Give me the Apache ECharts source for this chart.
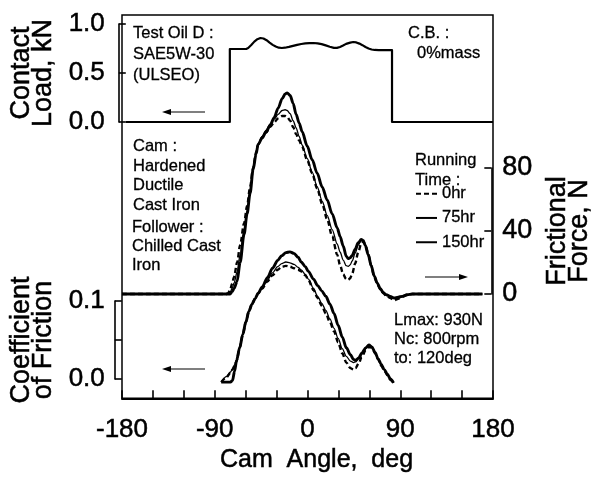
<!DOCTYPE html>
<html>
<head>
<meta charset="utf-8">
<script src="https://cdn.jsdelivr.net/npm/echarts@6/dist/echarts.min.js"></script>
<style>html,body{margin:0;padding:0;background:#fff;}#c{width:601px;height:478px;}</style>
</head>
<body>
<div id="c"></div>
<script>
// ---------- DATA ----------
const xTickLabels = [-180, -90, 0, 90, 180];
const loadTickLabels = [0.0, 0.5, 1.0];
const ffTickLabels = [0, 40, 80];
const cofTickLabels = [0.0, 0.1];
const seriesNames = ['0hr', '75hr', '150hr'];

// Contact load (kN) vs cam angle (deg)
const loadAngles = [-180, -78, -78, -62, -60, -57, -54, -51, -48, -45, -42, -39, -36, -33, -30, -27, -24, -20, -16, -12, -8, -4, 0, 4, 8, 12, 16, 20, 24, 27, 30, 33, 36, 40, 43, 46, 49, 52, 55, 58, 61, 64, 68, 81, 81, 180];
const loadKN     = [0, 0, 0.745, 0.745, 0.755, 0.785, 0.82, 0.845, 0.857, 0.852, 0.835, 0.81, 0.787, 0.77, 0.758, 0.755, 0.758, 0.766, 0.777, 0.787, 0.796, 0.802, 0.805, 0.806, 0.803, 0.795, 0.782, 0.768, 0.757, 0.756, 0.765, 0.78, 0.797, 0.81, 0.816, 0.812, 0.8, 0.784, 0.765, 0.75, 0.74, 0.735, 0.733, 0.733, 0, 0];

// Frictional force (N)
const ffAngles = [-180, -76, -74, -72, -70, -68, -65, -62, -58, -55, -52, -49, -46, -44, -40, -36, -32, -28, -24, -20, -17, -15, -12, -9, -6, -3, 0, 5, 10, 15, 20, 25, 30, 35, 38, 41, 44, 46, 48, 50, 53, 56, 59, 61, 63, 66, 69, 72, 75, 78, 81, 84, 88, 92, 96, 100, 105, 110, 180];
const ff0hr   = [0, 0, 0.5, 2.5, 6.5, 11, 20, 31, 45, 56, 68, 80, 90, 95, 99.5, 102.5, 106, 109, 111.5, 113, 113, 112.5, 110, 106, 101.5, 97.5, 93.5, 85.1, 76.7, 67, 57.2, 47.4, 36.6, 25, 18, 12.5, 9.5, 9, 10, 13, 19.5, 26.5, 32, 33.3, 31.5, 25.5, 18, 11, 6.5, 3, 0.5, -1, -2.5, -4, -3, -1.5, -0.5, 0, 0];
const ff75hr  = [0, 0, 0, 1, 3.5, 7, 14, 25, 41, 53, 66, 79, 90, 95, 100, 104, 108, 111, 114, 116.5, 117, 116.5, 114.5, 110, 105.5, 100, 94.6, 86.1, 77.4, 68.1, 59, 49.9, 40.9, 31.8, 26.5, 21.5, 18, 17.5, 18.5, 21, 26, 31, 34, 33.5, 31, 25, 18, 11.5, 7, 3.5, 1, -0.5, -1.5, -2.5, -2, -1.5, -0.5, 0, 0];
const ff150hr = [0, 0, 0, 0, 1.5, 3.5, 8, 20, 38, 51, 64, 79, 89, 95, 99, 103, 107, 112, 118, 124, 127, 127.7, 126, 121, 114, 108.5, 103, 94, 85.2, 76.7, 68, 59.7, 50.8, 42, 36.4, 30.5, 24, 22.5, 23, 24.5, 28.5, 32.5, 34.6, 34, 31, 25, 18, 11.5, 7, 3.5, 1, -0.5, -1.5, -2.5, -2, -1.5, -0.5, 0, 0];

// Coefficient of friction
const cofAngles = [-85, -80, -76, -74, -72, -70, -67, -64, -61, -58, -55, -52, -49, -45, -40, -35, -30, -26, -22, -18, -14, -10, -7, -3, 0, 5, 9, 13, 17, 21, 25, 29, 33, 37, 41, 44, 46, 49, 52, 56, 59, 62, 65, 68, 71, 74, 77, 80, 83];
const cof0hr   = [-0.004, 0.002, 0.008, 0.012, 0.017, 0.023, 0.040, 0.057, 0.073, 0.087, 0.096, 0.103, 0.110, 0.116, 0.125, 0.133, 0.140, 0.144, 0.145, 0.144, 0.142, 0.140, 0.138, 0.133, 0.127, 0.114, 0.104, 0.094, 0.084, 0.073, 0.061, 0.047, 0.033, 0.021, 0.014, 0.012, 0.014, 0.020, 0.028, 0.037, 0.041, 0.040, 0.033, 0.025, 0.017, 0.011, 0.005, -0.001, -0.006];
const cof75hr  = [-0.004, 0.003, 0.009, 0.013, 0.018, 0.024, 0.040, 0.057, 0.073, 0.087, 0.096, 0.103, 0.110, 0.117, 0.127, 0.136, 0.144, 0.148, 0.150, 0.149, 0.147, 0.143, 0.140, 0.134, 0.128, 0.116, 0.106, 0.097, 0.088, 0.077, 0.065, 0.052, 0.039, 0.029, 0.023, 0.021, 0.022, 0.026, 0.032, 0.040, 0.043, 0.041, 0.034, 0.026, 0.018, 0.012, 0.006, 0.000, -0.005];
const cof150hr = [-0.004, -0.004, -0.004, -0.002, 0.010, 0.024, 0.040, 0.057, 0.073, 0.087, 0.096, 0.103, 0.110, 0.118, 0.130, 0.142, 0.152, 0.158, 0.162, 0.163, 0.161, 0.156, 0.150, 0.144, 0.138, 0.128, 0.120, 0.113, 0.106, 0.096, 0.084, 0.069, 0.054, 0.040, 0.031, 0.025, 0.024, 0.027, 0.033, 0.040, 0.0436, 0.041, 0.034, 0.026, 0.019, 0.012, 0.006, 0.000, -0.005];

// ---------- CHART ----------
const FONT = '"Liberation Sans", Arial, Helvetica, sans-serif';
const INK = { textBorderColor: '#000', textBorderWidth: 0.5 };
const pair = (xs, ys) => xs.map((x, i) => [x, ys[i]]);
const styles = {
  '0hr':   { width: 2.4, type: [5, 3] },
  '75hr':  { width: 1.3, type: 'solid' },
  '150hr': { width: 2.9, type: 'solid' }
};
const mkLine = (name, data, xi, yi) => ({
  name, type: 'line', xAxisIndex: xi, yAxisIndex: yi, data,
  symbol: 'none', showSymbol: false, smooth: 0.3, smoothMonotone: 'x', clip: false,
  lineStyle: { color: '#000', width: styles[name].width, type: styles[name].type },
  itemStyle: { color: '#000' }, animation: false
});

const GL = 122, GR = 108;
const hiddenX = i => ({ gridIndex: i, type: 'value', min: -180, max: 180, show: false, axisLine: { onZero: false } });
const yLine = { show: true, onZero: false, lineStyle: { color: '#000', width: 1.6 } };
const yTick = { show: true, inside: true, length: 7, lineStyle: { color: '#000', width: 1.6 } };
const txt = (x, y, text, lh) => ({
  type: 'text', x, y, silent: true,
  style: { text, fill: '#000', fontSize: 16.5, fontFamily: FONT, lineHeight: lh || 20, verticalAlign: 'top', align: 'left', stroke: '#000', lineWidth: 0.3 }
});
const arrow = (x1, x2, y) => {
  const dir = x2 > x1 ? 1 : -1;
  return [
    { type: 'line', silent: true, shape: { x1, y1: y, x2: x2 - dir * 7, y2: y }, style: { stroke: '#000', lineWidth: 1.2 } },
    { type: 'polygon', silent: true, shape: { points: [[x2, y], [x2 - dir * 9, y - 3], [x2 - dir * 9, y + 3]] }, style: { fill: '#000' } }
  ];
};

const option = {
  backgroundColor: '#fff',
  animation: false,
  textStyle: { fontFamily: FONT, color: '#000' },
  grid: [
    { left: GL, right: GR, top: 15, bottom: 67, show: true, borderColor: '#000', borderWidth: 1.5, backgroundColor: 'transparent' },
    { left: GL, right: GR, top: 24, bottom: 356 },
    { left: GL, right: GR, top: 168, bottom: 184 },
    { left: GL, right: GR, top: 301, bottom: 99 }
  ],
  xAxis: [
    {
      gridIndex: 0, type: 'value', min: -180, max: 180, interval: 30,
      axisLine: { show: true, onZero: false, lineStyle: { color: '#000', width: 2 } },
      axisTick: { show: true, inside: true, length: 8, lineStyle: { color: '#000', width: 1.6 } },
      axisLabel: { fontSize: 26, color: '#000', margin: 18, fontFamily: FONT, ...INK,
        formatter: v => xTickLabels.includes(v) ? String(v) : '' },
      splitLine: { show: false },
      name: 'Cam  Angle,  deg', nameLocation: 'middle', nameGap: 49,
      nameTextStyle: { fontSize: 25, color: '#000', fontFamily: FONT, padding: [0, 0, 0, 18], ...INK }
    },
    hiddenX(1), hiddenX(2), hiddenX(3)
  ],
  yAxis: [
    { gridIndex: 0, type: 'value', min: 0, max: 1, show: false },
    {
      gridIndex: 1, type: 'value', min: 0, max: 1, interval: 0.5, position: 'left', offset: 7,
      axisLine: yLine, axisTick: yTick,
      axisLabel: { fontSize: 26, color: '#000', margin: 14, fontFamily: FONT, ...INK,
        formatter: v => loadTickLabels.some(t => Math.abs(t - v) < 1e-9) ? v.toFixed(1) : '' },
      splitLine: { show: false },
      name: 'Contact\nLoad, kN', nameLocation: 'middle', nameRotate: 90, nameGap: 56,
      nameTextStyle: { fontSize: 27, lineHeight: 22, color: '#000', fontFamily: FONT, ...INK }
    },
    {
      gridIndex: 2, type: 'value', min: 0, max: 80, interval: 40, position: 'right', offset: 9,
      axisLine: yLine, axisTick: yTick,
      axisLabel: { fontSize: 27, color: '#000', margin: 11, fontFamily: FONT, ...INK,
        formatter: v => ffTickLabels.includes(v) ? String(v) : '' },
      splitLine: { show: false },
      name: 'Frictional\nForce, N', nameLocation: 'middle', nameRotate: 90, nameGap: 51,
      nameTextStyle: { fontSize: 27, lineHeight: 22, color: '#000', fontFamily: FONT, ...INK }
    },
    {
      gridIndex: 3, type: 'value', min: 0, max: 0.1, interval: 0.05, position: 'left', offset: 9,
      axisLine: yLine, axisTick: yTick,
      axisLabel: { fontSize: 26, color: '#000', margin: 10, fontFamily: FONT, ...INK,
        formatter: v => cofTickLabels.some(t => Math.abs(t - v) < 1e-9) ? v.toFixed(1) : '' },
      splitLine: { show: false },
      name: 'Coefficient\nof Friction', nameLocation: 'middle', nameRotate: 90, nameGap: 55,
      nameTextStyle: { fontSize: 27, lineHeight: 22, color: '#000', fontFamily: FONT, ...INK }
    }
  ],
  legend: {
    data: seriesNames, orient: 'vertical', left: 415, top: 185,
    itemWidth: 21, itemHeight: 14, itemGap: 7, selectedMode: false,
    itemStyle: { opacity: 0 },
    textStyle: { fontSize: 16.5, color: '#000', fontFamily: FONT, lineHeight: 16, textBorderColor: '#000', textBorderWidth: 0.3 },
    padding: 0
  },
  series: [
    {
      name: 'load', type: 'line', xAxisIndex: 1, yAxisIndex: 1, data: pair(loadAngles, loadKN),
      symbol: 'none', smooth: false, clip: false,
      lineStyle: { color: '#000', width: 2.2, join: 'round' }, animation: false
    },
    mkLine('0hr', pair(ffAngles, ff0hr), 2, 2),
    mkLine('75hr', pair(ffAngles, ff75hr), 2, 2),
    mkLine('150hr', pair(ffAngles, ff150hr), 2, 2),
    mkLine('0hr', pair(cofAngles, cof0hr), 3, 3),
    mkLine('75hr', pair(cofAngles, cof75hr), 3, 3),
    mkLine('150hr', pair(cofAngles, cof150hr), 3, 3)
  ],
  graphic: [
    txt(133, 22.5, 'Test Oil D :\nSAE5W-30\n(ULSEO)', 21),
    txt(408, 23, 'C.B. :'),
    txt(417, 43, '0%mass'),
    txt(133, 137, 'Cam :\nHardened\nDuctile\nCast Iron', 19.5),
    txt(132, 217.5, 'Follower :\nChilled Cast\nIron', 19),
    txt(415, 151, 'Running\nTime :', 19.5),
    txt(394, 310.5, 'Lmax: 930N\nNc: 800rpm\nto: 120deg', 19),
    ...arrow(205, 162, 112),
    ...arrow(425, 468, 277),
    ...arrow(205, 162, 369)
  ]
};
const chart = echarts.init(document.getElementById('c'), null, { renderer: 'canvas' });
chart.setOption(option);
</script>
</body>
</html>
